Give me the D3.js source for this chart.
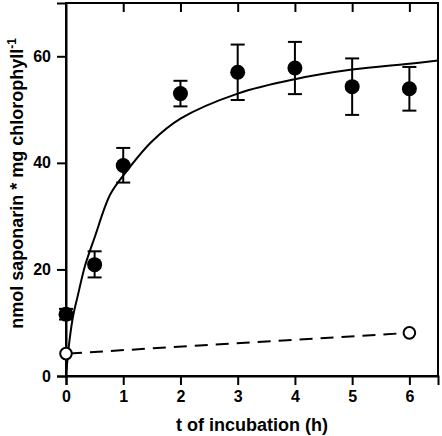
<!DOCTYPE html>
<html><head><meta charset="utf-8">
<script src="https://cdn.jsdelivr.net/npm/d3@7"></script>
<style>
html,body{margin:0;padding:0;background:#fff;}
svg text{font-family:"Liberation Sans",Arial,sans-serif;font-weight:bold;fill:#000;}
</style></head>
<body><svg id="chart" width="442" height="436"></svg>
<script>
// Filled circles: saponarin over incubation time (mean, error low, error high)
const timeH = [0, 0.5, 1, 2, 3, 4, 5, 6];
const saponarin = [11.6, 20.9, 39.5, 53.0, 57.0, 57.8, 54.3, 53.9];
const errLow = [10.6, 18.5, 36.3, 50.6, 51.8, 52.9, 49.0, 49.8];
const errHigh = [12.6, 23.4, 42.8, 55.4, 62.2, 62.7, 59.6, 58.0];
// Open circles (control) joined by a dashed line
const controlTime = [0, 6];
const controlValue = [4.2, 8.1];
// Fitted saturation curve
const fitTime = [0, 0.06, 0.13, 0.2, 0.33, 0.5, 0.77, 1, 1.5, 2, 3, 4, 5, 6, 6.5];
const fitValue = [0, 6.6, 11.6, 14.8, 20.6, 26.0, 34.0, 37.6, 44.0, 48.3, 53.0, 55.7, 57.5, 58.6, 59.2];
const xTicks = [0, 1, 2, 3, 4, 5, 6];
const yTicks = [0, 20, 40, 60];

const svg = d3.select("#chart");
const m = {left: 66, right: 4, top: 3, bottom: 60};
const W = 442, H = 436;
const x = d3.scaleLinear().domain([0, 6.5]).range([m.left, W - m.right]);
const y = d3.scaleLinear().domain([0, 70]).range([H - m.bottom, m.top]);

// frame
svg.append("rect").attr("x", x(0)).attr("y", y(70))
  .attr("width", x(6.5) - x(0)).attr("height", y(0) - y(70))
  .attr("fill", "none").attr("stroke", "#000").attr("stroke-width", 2);

// bottom axis
const gx = svg.append("g").attr("transform", `translate(0,${y(0)})`)
  .call(d3.axisBottom(x).tickValues(xTicks).tickSize(9).tickPadding(6).tickFormat(d3.format("d")));
// left axis
const gy = svg.append("g").attr("transform", `translate(${x(0)},0)`)
  .call(d3.axisLeft(y).tickValues(yTicks).tickSize(9).tickPadding(6).tickFormat(d3.format("d")));
// top inward ticks
const gt = svg.append("g").attr("transform", `translate(0,${y(70)})`)
  .call(d3.axisTop(x).tickValues(xTicks.slice(1)).tickSize(-9).tickFormat(""));
[gx, gy, gt].forEach(g => {
  g.select(".domain").attr("stroke-width", 2);
  g.selectAll(".tick line").attr("stroke-width", 2);
  g.selectAll(".tick text").style("font-size", "16px").style("font-family", "'Liberation Sans',Arial,sans-serif").style("font-weight", "bold");
});
gt.select(".domain").remove();

// fitted curve
const fit = fitTime.map((t, i) => [t, fitValue[i]]);
svg.append("path").datum(fit)
  .attr("d", d3.line().x(d => x(d[0])).y(d => y(d[1])).curve(d3.curveCatmullRom.alpha(0.5)))
  .attr("fill", "none").attr("stroke", "#000").attr("stroke-width", 2);

// control dashed line
const ctrl = controlTime.map((t, i) => [t, controlValue[i]]);
svg.append("path").datum(ctrl)
  .attr("d", d3.line().x(d => x(d[0])).y(d => y(d[1])))
  .attr("fill", "none").attr("stroke", "#000").attr("stroke-width", 2)
  .attr("stroke-dasharray", "13,8").attr("stroke-dashoffset", -3);

// error bars
const pts = timeH.map((t, i) => ({t, v: saponarin[i], lo: errLow[i], hi: errHigh[i]}));
const eb = svg.append("g").attr("stroke", "#000").attr("stroke-width", 2);
pts.forEach(p => {
  eb.append("line").attr("x1", x(p.t)).attr("x2", x(p.t)).attr("y1", y(p.lo)).attr("y2", y(p.hi));
  eb.append("line").attr("x1", x(p.t) - 7).attr("x2", x(p.t) + 7).attr("y1", y(p.lo)).attr("y2", y(p.lo));
  eb.append("line").attr("x1", x(p.t) - 7).attr("x2", x(p.t) + 7).attr("y1", y(p.hi)).attr("y2", y(p.hi));
});
svg.append("g").selectAll("circle").data(pts).join("circle")
  .attr("cx", d => x(d.t)).attr("cy", d => y(d.v)).attr("r", 7.5).attr("fill", "#000");

svg.append("g").selectAll("circle").data(ctrl).join("circle")
  .attr("cx", d => x(d[0])).attr("cy", d => y(d[1])).attr("r", 5.8)
  .attr("fill", "#fff").attr("stroke", "#000").attr("stroke-width", 2);

// axis titles
svg.append("text").attr("x", (x(0) + x(6.5)) / 2).attr("y", 431)
  .attr("text-anchor", "middle").style("font-size", "18px").text("t of incubation (h)");
const yt = svg.append("text").attr("transform", `translate(23,${(y(0) + y(70)) / 2 - 6}) rotate(-90)`)
  .attr("text-anchor", "middle").style("font-size", "18px");
yt.append("tspan").text("nmol saponarin * mg chlorophyll");
yt.append("tspan").attr("dy", -7).style("font-size", "12px").text("-1");
</script></body></html>
